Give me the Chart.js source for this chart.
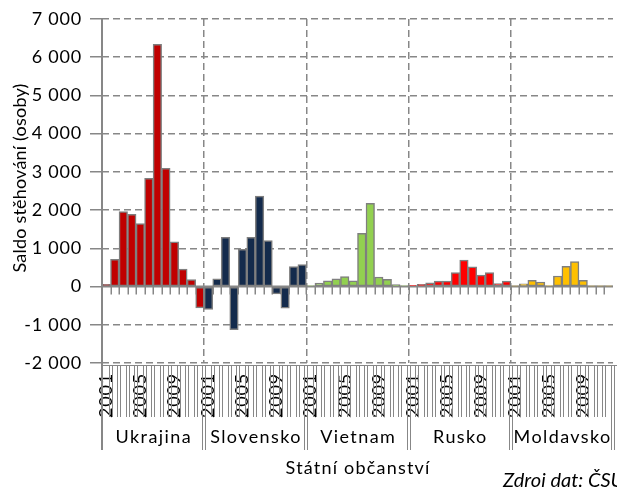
<!DOCTYPE html>
<html><head><meta charset="utf-8">
<script src="https://cdn.jsdelivr.net/npm/chart.js@4.4.1/dist/chart.umd.min.js"></script>
<style>html,body{margin:0;padding:0;background:#fff}#wrap{width:617px;height:487px;position:relative;overflow:hidden}</style>
</head><body><div id="wrap"><canvas id="c" width="617" height="487"></canvas></div>
<script>
// ---- data ----
const years = ['2001','2002','2003','2004','2005','2006','2007','2008','2009','2010','2011','2012'];
const countries = ['Ukrajina','Slovensko','Vietnam','Rusko','Moldavsko'];
const ukrajina  = [60, 710, 1960, 1890, 1645, 2830, 6340, 3090, 1170, 455, 185, -560];
const slovensko = [-600, 200, 1290, -1130, 975, 1290, 2370, 1200, -190, -565, 520, 575];
const vietnam   = [20, 90, 150, 200, 260, 150, 1390, 2175, 250, 190, 50, 15];
const rusko     = [25, 55, 100, 145, 140, 365, 690, 515, 300, 365, 75, 145];
const moldavsko = [10, 70, 165, 120, 15, 275, 530, 655, 165, 10, 10, 10];
const shownYears = ['2001','2005','2009'];
const yTickValues = [-2000,-1000,0,1000,2000,3000,4000,5000,6000,7000];
const yTitle = 'Saldo stěhování (osoby)';
const xTitle = 'Státní občanství';
const sourceNote = 'Zdroj dat: ČSÚ';

// ---- styles ----
const seriesColors = ['#C00000','#142B4C','#92D050','#FF0000','#FFC000'];
const GRAY = '#878787';
const FONT = 'Lato, "Open Sans", sans-serif';
const FS = 18;

const allSeries = [ukrajina, slovensko, vietnam, rusko, moldavsko];
const labels = countries.flatMap(() => years);
const nPer = years.length;
const datasets = countries.map((c, k) => ({
  label: c,
  data: labels.map((_, i) => Math.floor(i / nPer) === k ? allSeries[k][i % nPer] : null),
  backgroundColor: seriesColors[k],
  borderColor: '#7f7f7f',
  borderWidth: 1.5,
  borderSkipped: false,
  categoryPercentage: 1,
  barPercentage: 1
}));

function fmt(v){
  const s = Math.abs(v).toString();
  const body = s.length > 3 ? s.slice(0, s.length-3) + '\u00a0' + s.slice(-3) : s;
  return (v < 0 ? '-' : '') + body;
}

const decor = {
  id: 'decor',
  beforeDraw(chart){ chart.ctx.letterSpacing = '0.8px'; },
  beforeDatasetsDraw(chart){
    const {ctx, chartArea: a, scales: {y}} = chart;
    const y0 = y.getPixelForValue(0);
    const w = (a.right - a.left) / labels.length;
    ctx.save();
    ctx.strokeStyle = GRAY; ctx.lineWidth = 2;
    ctx.beginPath(); ctx.moveTo(a.left, y0); ctx.lineTo(a.right, y0); ctx.stroke();
    ctx.lineWidth = 1.5;
    ctx.beginPath();
    for (let i = 1; i < labels.length; i++) {
      const x = Math.round(a.left + i * w) + 0.25;
      ctx.moveTo(x, y0); ctx.lineTo(x, y0 + 8);
    }
    ctx.stroke();
    ctx.restore();
  },
  afterDraw(chart){
    const {ctx, chartArea: a} = chart;
    const w = (a.right - a.left) / labels.length;
    ctx.save();
    ctx.strokeStyle = GRAY;
    // y axis line
    ctx.lineWidth = 2;
    ctx.beginPath(); ctx.moveTo(a.left, a.top - 1); ctx.lineTo(a.left, a.bottom + 87); ctx.stroke();
    // label brackets
    ctx.lineWidth = 1;
    const yb = a.bottom + 2;
    ctx.beginPath(); ctx.moveTo(a.left, yb + 0.5); ctx.lineTo(a.right + 4, yb + 0.5); ctx.stroke();
    ctx.beginPath();
    for (let i = 1; i <= labels.length; i++) {
      const x = Math.round(a.left + i * w);
      const isGroup = i % nPer === 0;
      const yEnd = isGroup ? a.bottom + 87 : a.bottom + 54;
      ctx.moveTo(x - 1.5, yb); ctx.lineTo(x - 1.5, yEnd);
      ctx.moveTo(x + 1.5, yb); ctx.lineTo(x + 1.5, yEnd);
    }
    ctx.stroke();
    // group labels
    ctx.fillStyle = '#000';
    ctx.font = FS + 'px ' + FONT;
    ctx.textAlign = 'center'; ctx.textBaseline = 'middle';
    ctx.letterSpacing = '1.4px';
    countries.forEach((c, k) => {
      ctx.fillText(c, a.left + (k * nPer + nPer / 2) * w + 0.7, a.bottom + 74);
    });
    // x title
    ctx.letterSpacing = '1.2px';
    ctx.fillText(xTitle, (a.left + a.right) / 2 + 0.6, 468);
    ctx.letterSpacing = '0.2px';
    // y title
    ctx.save();
    ctx.translate(20, 178);
    ctx.rotate(-Math.PI / 2);
    ctx.fillText(yTitle, 0, 0);
    ctx.restore();
    // source
    ctx.letterSpacing = '0px';
    ctx.font = 'italic 20px ' + FONT;
    ctx.textAlign = 'left';
    ctx.textBaseline = 'alphabetic';
    ctx.fillText(sourceNote, 503, 487);
    ctx.restore();
    ctx.letterSpacing = '0px';
  }
};

Chart.defaults.font.family = FONT;
Chart.defaults.font.size = FS;
Chart.defaults.color = '#000';

new Chart(document.getElementById('c'), {
  type: 'bar',
  data: { labels, datasets },
  plugins: [decor],
  options: {
    responsive: false,
    devicePixelRatio: 1,
    animation: false,
    layout: { padding: { top: 19, right: 4, left: 0, bottom: 0 } },
    plugins: { legend: { display: false }, tooltip: { enabled: false } },
    scales: {
      x: {
        stacked: true,
        offset: true,
        grid: {
          offset: true,
          drawTicks: false,
          lineWidth: 1.5,
          color: ctx => (ctx.index > 0 && ctx.index < labels.length && ctx.index % nPer === 0) ? GRAY : 'rgba(0,0,0,0)'
        },
        border: { display: false, dash: [7, 4] },
        ticks: {
          autoSkip: false, maxRotation: 90, minRotation: 90, padding: 10,
          callback: function(v, i){ const l = labels[i]; return shownYears.includes(l) ? l : ''; }
        },
        afterFit: s => { s.height = 124; s.paddingLeft = 0; s.paddingRight = 0; }
      },
      y: {
        stacked: true,
        min: -2000, max: 7000,
        afterBuildTicks: s => { s.ticks = yTickValues.map(v => ({ value: v })); },
        ticks: { padding: 8, callback: v => fmt(v) },
        grid: {
          lineWidth: 1.5,
          color: ctx => (ctx.tick && ctx.tick.value === 0) ? 'rgba(0,0,0,0)' : GRAY,
          tickLength: 12, tickColor: GRAY, tickWidth: 1.5, tickBorderDash: []
        },
        border: { display: false, dash: [7, 4] },
        afterFit: s => { s.width = 102; s.paddingTop = 0; s.paddingBottom = 0; }
      }
    }
  }
});
</script>
</body></html>
